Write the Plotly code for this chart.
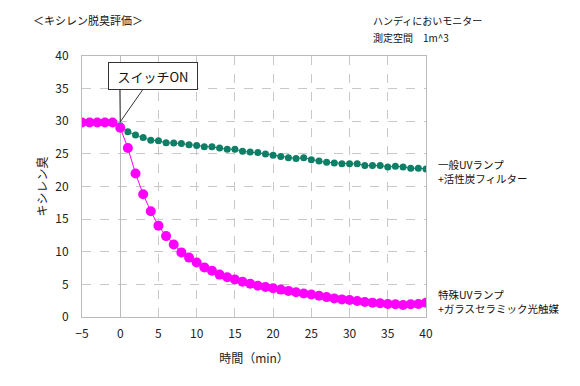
import plotly.graph_objects as go

# ---- data ----
minutes = list(range(-5, 41))
pre_switch = [29.8, 29.8, 29.8, 29.8, 29.8]
general_uv = pre_switch + [
    29.3, 28.4, 27.9, 27.5, 27.1, 27.0, 26.7, 26.65, 26.6, 26.4,
    26.3, 26.1, 26.1, 25.9, 25.7, 25.7, 25.4, 25.3, 25.2, 25.0,
    24.8, 24.6, 24.4, 24.3, 24.4, 24.1, 23.9, 23.7, 23.6, 23.5,
    23.5, 23.5, 23.2, 23.2, 23.2, 23.0, 23.1, 23.0, 22.8, 22.8,
    22.7]
special_uv = pre_switch + [
    29.0, 25.9, 22.0, 18.8, 16.2, 14.0, 12.4, 11.1, 9.9, 9.1,
    8.35, 7.6, 7.1, 6.5, 6.1, 5.75, 5.4, 5.1, 4.8, 4.6,
    4.4, 4.2, 4.0, 3.8, 3.6, 3.45, 3.25, 3.05, 2.85, 2.7,
    2.6, 2.45, 2.3, 2.2, 2.1, 2.0, 1.95, 1.85, 1.95, 2.0,
    2.2]
x_ticks = [-5, 0, 5, 10, 15, 20, 25, 30, 35, 40]
x_tick_labels = ["−5", "0", "5", "10", "15", "20", "25", "30", "35", "40"]
y_ticks = [0, 5, 10, 15, 20, 25, 30, 35, 40]
label_general = "一般UVランプ<br>+活性炭フィルター"
label_special = "特殊UVランプ<br>+ガラスセラミック光触媒"
title_left = "＜キシレン脱臭評価＞"
title_right_1 = "ハンディにおいモニター"
title_right_2 = "測定空間　1m^3"
callout = "スイッチON"

FONT = "Noto Sans CJK JP, Arial, sans-serif"
GREEN = "#0E7F66"
MAGENTA = "#FF00FF"
GRID = "#C8C8C8"

# page offset (browser body margin)
OFF = 8
ML, MT = 82 - OFF, 56 - OFF
MR = 580 - (426 - OFF)
MB = 386 - (317 - OFF)

fig = go.Figure()
fig.add_trace(go.Scatter(
    x=minutes, y=general_uv, mode="lines+markers",
    line=dict(color=GREEN, width=1),
    marker=dict(color=GREEN, size=7),
    showlegend=False, hoverinfo="skip"))
fig.add_trace(go.Scatter(
    x=minutes, y=special_uv, mode="lines+markers",
    line=dict(color=MAGENTA, width=1),
    marker=dict(color=MAGENTA, size=10),
    showlegend=False, hoverinfo="skip"))

# callout wedge
fig.add_shape(type="path", xref="x", yref="y",
              path="M -0.05,35.1 L 0,29.9 L 3.1,35.1",
              line=dict(color="#333333", width=1))

fig.update_layout(
    width=580, height=386,
    margin=dict(l=ML, r=MR, t=MT, b=MB),
    paper_bgcolor="white", plot_bgcolor="white",
    font=dict(family=FONT, size=12, color="#222"),
)

pw = 580 - ML - MR
ph = 386 - MT - MB
def px_to_paper(px, py):
    # px, py are reference-image pixels
    return (px - OFF - ML) / pw, 1 - (py - OFF - MT) / ph

fig.add_annotation(x=4.3, y=37.0, xref="x", yref="y", text=callout, showarrow=False,
                   font=dict(family=FONT, size=13, color="#111"),
                   bgcolor="white", bordercolor="#333333", borderwidth=1,
                   borderpad=2, width=84, height=22, xanchor="center", yanchor="middle")

tx, _ = px_to_paper(436, 0)
fig.add_annotation(x=tx, y=22.3, xref="paper", yref="y", text=label_general,
                   showarrow=False, xanchor="left", yanchor="middle", align="left",
                   font=dict(family=FONT, size=10.5, color="#111"))
fig.add_annotation(x=tx, y=2.3, xref="paper", yref="y", text=label_special,
                   showarrow=False, xanchor="left", yanchor="middle", align="left",
                   font=dict(family=FONT, size=10.5, color="#111"))

tx, ty = px_to_paper(31, 20)
fig.add_annotation(x=tx, y=ty, xref="paper", yref="paper", text=title_left,
                   showarrow=False, xanchor="left", yanchor="middle",
                   font=dict(family=FONT, size=11, color="#111"))
tx, ty = px_to_paper(371, 21)
fig.add_annotation(x=tx, y=ty, xref="paper", yref="paper", text=title_right_1,
                   showarrow=False, xanchor="left", yanchor="middle", align="left",
                   font=dict(family=FONT, size=10, color="#111"))
tx, ty = px_to_paper(371, 37)
fig.add_annotation(x=tx, y=ty, xref="paper", yref="paper", text=title_right_2,
                   showarrow=False, xanchor="left", yanchor="middle", align="left",
                   font=dict(family=FONT, size=10, color="#111"))

fig.update_xaxes(
    range=[-5, 40], tickvals=x_ticks, ticktext=x_tick_labels,
    showgrid=True, gridcolor=GRID, griddash="dash", gridwidth=1,
    zeroline=True, zerolinecolor="#BBBBBB", zerolinewidth=1,
    showline=True, linecolor="#BBBBBB", linewidth=1, mirror=True,
    ticks="", ticklabelstandoff=6, tickfont=dict(family=FONT, size=12, color="#222"),
    title=dict(text="時間（min）", font=dict(family=FONT, size=12, color="#222"), standoff=14),
)
fig.update_yaxes(
    range=[0, 40], tickvals=y_ticks,
    showgrid=True, gridcolor=GRID, griddash="dash", gridwidth=1,
    zeroline=False,
    showline=True, linecolor="#BBBBBB", linewidth=1, mirror=True,
    ticks="", ticklabelstandoff=10, tickfont=dict(family=FONT, size=12, color="#222"),
    title=dict(text="キシレン臭", font=dict(family=FONT, size=12, color="#222"), standoff=5),
)

fig.write_html("out.html")
